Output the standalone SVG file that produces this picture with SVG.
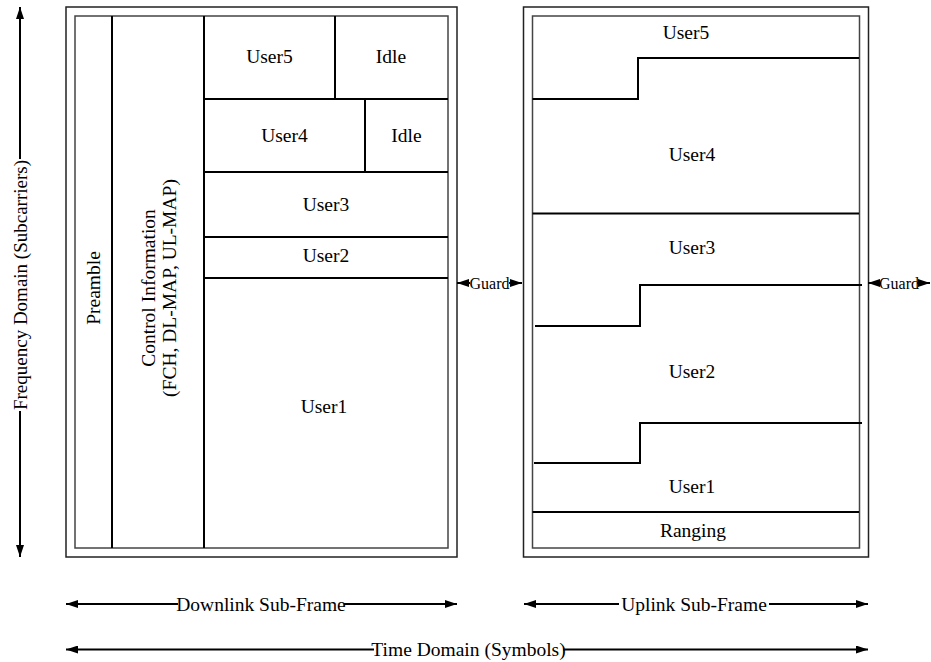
<svg xmlns="http://www.w3.org/2000/svg" width="931" height="662" viewBox="0 0 931 662">
<defs>
<marker id="ah" viewBox="0 0 12 8" refX="12" refY="4" markerWidth="12" markerHeight="8" markerUnits="userSpaceOnUse" orient="auto-start-reverse">
<path d="M0,0 L12,4 L0,8 z" fill="#000"/>
</marker>
<style>
text{font-family:"Liberation Serif","Times New Roman",serif;fill:#000}
.lbl{font-size:19.5px;text-anchor:middle}
.ax{font-size:19.5px;text-anchor:middle}
.gd{font-size:16px;text-anchor:middle}
.outer{fill:#fff;stroke:#222;stroke-width:1.5}
.inner{fill:none;stroke:#444;stroke-width:1.5}
.div{fill:none;stroke:#000;stroke-width:2}
.ln{stroke:#000;stroke-width:2;fill:none}
.as{marker-start:url(#ah)}
.ae{marker-end:url(#ah)}
</style>
</defs>
<rect width="931" height="662" fill="#fff"/>

<g id="downlink-frame">
<rect class="outer" x="66" y="7" width="391" height="550"/>
<rect class="inner" x="75" y="16" width="373" height="532"/>
</g>
<g id="preamble">
<line class="div" x1="112" y1="16" x2="112" y2="548"/>
<text class="lbl" transform="translate(100,288) rotate(-90)">Preamble</text>
</g>
<g id="control">
<line class="div" x1="204" y1="16" x2="204" y2="548"/>
<text class="lbl" transform="translate(155,288) rotate(-90)">Control Information</text>
<text class="lbl" transform="translate(176,288) rotate(-90)">(FCH, DL-MAP, UL-MAP)</text>
</g>
<g id="dl-user5">
<line class="div" x1="335" y1="16" x2="335" y2="99"/>
<text class="lbl" x="269.5" y="63">User5</text>
</g>
<g id="dl-idle1">
<text class="lbl" x="391" y="63">Idle</text>
</g>
<g id="dl-user4">
<line class="div" x1="204" y1="99" x2="448" y2="99"/>
<line class="div" x1="365" y1="99" x2="365" y2="172"/>
<text class="lbl" x="284.5" y="141.5">User4</text>
</g>
<g id="dl-idle2">
<text class="lbl" x="406.5" y="141.5">Idle</text>
</g>
<g id="dl-user3">
<line class="div" x1="204" y1="172" x2="448" y2="172"/>
<text class="lbl" x="326" y="211">User3</text>
</g>
<g id="dl-user2">
<line class="div" x1="204" y1="237" x2="448" y2="237"/>
<text class="lbl" x="326" y="262">User2</text>
</g>
<g id="dl-user1">
<line class="div" x1="204" y1="278" x2="448" y2="278"/>
<text class="lbl" x="324" y="412.5">User1</text>
</g>

<g id="uplink-frame">
<rect class="outer" x="523.5" y="7" width="345" height="550"/>
<rect class="inner" x="532.5" y="16" width="327" height="532"/>
</g>
<g id="ul-user5">
<text class="lbl" x="686" y="39">User5</text>
<polyline class="div" points="532.5,99 638,99 638,58 859,58"/>
</g>
<g id="ul-user4">
<text class="lbl" x="692" y="161">User4</text>
<line class="div" x1="532.5" y1="213.5" x2="859" y2="213.5"/>
</g>
<g id="ul-user3">
<text class="lbl" x="692" y="254">User3</text>
<polyline class="div" points="535,326 640,326 640,285 862,285"/>
</g>
<g id="ul-user2">
<text class="lbl" x="692" y="377.5">User2</text>
<polyline class="div" points="534,463 640,463 640,423 862,423"/>
</g>
<g id="ul-user1">
<text class="lbl" x="692" y="492.5">User1</text>
<line class="div" x1="532.5" y1="512" x2="859" y2="512"/>
</g>
<g id="ul-ranging">
<text class="lbl" x="693" y="536.5">Ranging</text>
</g>

<g id="connectors">
<line class="ln ae" x1="20" y1="159" x2="20" y2="7"/>
<line class="ln ae" x1="20" y1="411" x2="20" y2="557"/>
<line class="ln as" x1="457" y1="283" x2="470" y2="283"/>
<line class="ln ae" x1="509" y1="283" x2="522" y2="283"/>
<line class="ln as" x1="868" y1="283" x2="881" y2="283"/>
<line class="ln ae" x1="917" y1="283" x2="930" y2="283"/>
<line class="ln as" x1="66" y1="604" x2="178" y2="604"/>
<line class="ln ae" x1="344" y1="604" x2="457" y2="604"/>
<line class="ln as" x1="524" y1="604" x2="619" y2="604"/>
<line class="ln ae" x1="769" y1="604" x2="868" y2="604"/>
<line class="ln as" x1="66" y1="649.5" x2="374" y2="649.5"/>
<line class="ln ae" x1="563" y1="649.5" x2="868" y2="649.5"/>
</g>
<g id="axis-labels">
<text class="ax" style="font-size:19px" transform="translate(27,285) rotate(-90)">Frequency Domain (Subcarriers)</text>
<text class="gd" x="489.5" y="288.5">Guard</text>
<text class="gd" x="899" y="288.5">Guard</text>
<text class="ax" x="261" y="610.5">Downlink Sub-Frame</text>
<text class="ax" x="694" y="610.5">Uplink Sub-Frame</text>
<text class="ax" x="468.5" y="656">Time Domain (Symbols)</text>
</g>
</svg>
